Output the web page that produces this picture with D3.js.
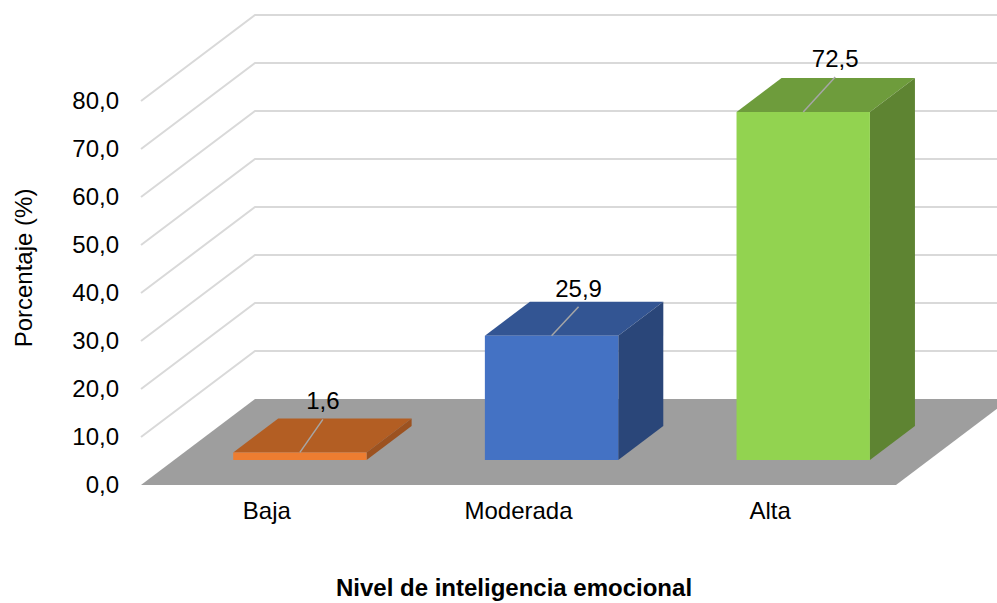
<!DOCTYPE html>
<html><head><meta charset="utf-8">
<script src="https://cdn.jsdelivr.net/npm/d3@7"></script>
<style>html,body{margin:0;padding:0;background:#fff;overflow:hidden}svg{display:block}text{font-family:"Liberation Sans",Arial,sans-serif;fill:#000}</style>
</head><body><svg id="c" width="997" height="603"></svg>
<script>
const categories = ["Baja","Moderada","Alta"];
const values = [1.6,25.9,72.5];
const valueLabels = ["1,6","25,9","72,5"];
const yTicks = [0,10,20,30,40,50,60,70,80];
const frontColors = ["#ED7D31","#4472C4","#92D350"];
const topColors = ["#B35E23","#335593","#6E9C3C"];
const sideColors = ["#9C5220","#2A4679","#5E8432"];
const xTitle = "Nivel de inteligencia emocional";
const yTitle = "Porcentaje (%)";

const W=997,H=603;
const svg=d3.select("#c");
const x=d3.scaleBand().domain(categories).range([141,896]).paddingInner(0.47).paddingOuter(0.235);
const full=d3.scaleBand().domain(categories).range([141,896]);
const y=d3.scaleLinear().domain([0,80]).range([485,101]);
const dx=d3.scaleLinear().domain([0,1]).range([0,114]);
const dy=d3.scaleLinear().domain([0,1]).range([0,-86]);
const barD0=0.29, barD1=0.685;
const P=(px,v,d)=>[px+dx(d),y(v)+dy(d)];
const line=d3.line();
const poly=pts=>line(pts)+"Z";

// floor
svg.append("path").attr("d",poly([P(141,0,0),P(896,0,0),P(896,0,1),P(141,0,1)])).attr("fill","#9E9E9E");

// gridlines on the side and back walls
const grid=svg.append("g").attr("fill","none").attr("stroke","#D9D9D9").attr("stroke-width",2);
yTicks.slice(1).forEach(t=>{
  grid.append("path").attr("d",line([P(141,t,0),P(141,t,1),P(896,t,1)]));
});

// bars
categories.forEach((c,i)=>{
  const a=x(c), b=a+x.bandwidth(), v=values[i], g=svg.append("g");
  g.append("path").attr("d",poly([P(a,v,barD0),P(b,v,barD0),P(b,v,barD1),P(a,v,barD1)])).attr("fill",topColors[i]);
  g.append("path").attr("d",poly([P(b,0,barD0),P(b,v,barD0),P(b,v,barD1),P(b,0,barD1)])).attr("fill",sideColors[i]);
  g.append("path").attr("d",poly([P(a,0,barD0),P(b,0,barD0),P(b,v,barD0),P(a,v,barD0)])).attr("fill",frontColors[i]);
  const m=a+x.bandwidth()/2;
  const s=P(m,v,barD0), e=[s[0]+(i==1?27:i==0?23:32),s[1]-(i==1?29:i==0?33:35)];
  g.append("line").attr("x1",s[0]).attr("y1",s[1]).attr("x2",e[0]).attr("y2",e[1]).attr("stroke","#A6A6A6").attr("stroke-width",1.5);
  g.append("text").attr("x",e[0]).attr("y",e[1]-10).attr("text-anchor","middle").attr("font-size",24).text(valueLabels[i]);
});

// axes
const fmt=d3.formatLocale({decimal:",",thousands:".",grouping:[3],currency:["",""]}).format(".1f");
const ya=svg.append("g").attr("transform","translate(125,0)").call(d3.axisLeft(y).tickValues(yTicks).tickSize(0).tickPadding(6).tickFormat(fmt));
ya.select(".domain").remove();
ya.selectAll("text").attr("font-size",24).attr("font-family",null).style("font-family",'"Liberation Sans"').attr("fill","#000");
const xa=svg.append("g").attr("transform","translate(0,496)").call(d3.axisBottom(full).tickSize(0).tickPadding(6));
xa.select(".domain").remove();
xa.selectAll("text").attr("font-size",24).attr("font-family",null).style("font-family",'"Liberation Sans"').attr("fill","#000");

svg.append("text").attr("x",514).attr("y",596).attr("text-anchor","middle").attr("font-size",24).attr("font-weight","bold").text(xTitle);
svg.append("text").attr("transform","translate(32,268) rotate(-90)").attr("text-anchor","middle").attr("font-size",24).text(yTitle);
</script></body></html>
